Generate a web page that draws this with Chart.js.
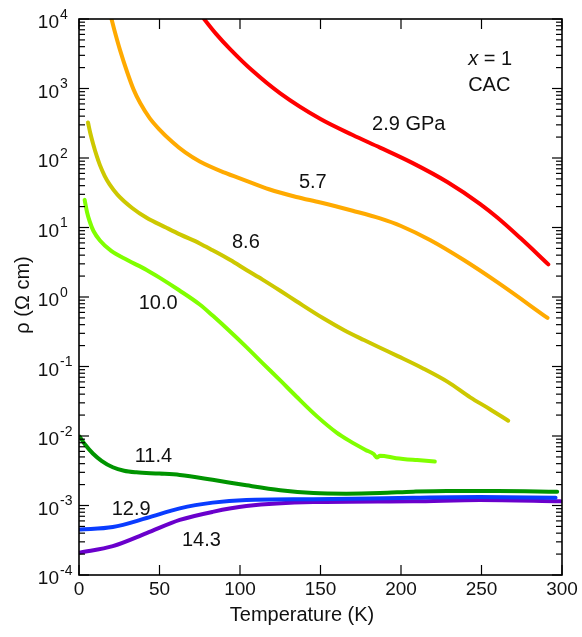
<!DOCTYPE html>
<html>
<head>
<meta charset="utf-8">
<script src="https://cdn.jsdelivr.net/npm/chart.js@4.4.0/dist/chart.umd.min.js"></script>
<style>
  body { margin: 0; background: #fff; }
  canvas { display: block; }
</style>
</head>
<body>
<canvas id="rhoChart" width="582" height="637"></canvas>
<script>
// temperature (K) / resistivity (ohm cm), one pair of arrays per pressure
const t29 = [77.7, 85, 93.7, 108, 125, 150, 170, 187, 207, 229, 249, 260, 274, 291.5];
const rho29 = [1.0e4, 6170, 3720, 1780, 850, 363, 214, 141, 85, 44.7, 21.9, 13.8, 7.1, 2.95];

const t57 = [20.2, 22, 25.4, 30, 34, 38, 44, 50, 58, 66, 75, 90, 104, 118, 135, 150, 170, 187, 200, 218, 239, 260, 291];
const rho57 = [1.0e4, 6900, 3630, 1700, 955, 617, 372, 257, 170, 120, 89, 62, 47, 35.5, 27.5, 22.9, 17.4, 13.5, 10.5, 6.6, 3.4, 1.62, 0.50];

const t86 = [5.6, 7, 8.7, 11, 13, 16, 19, 24, 33, 42, 54, 63, 75, 83, 94, 104, 114, 125, 135, 152, 165, 177, 187, 198, 214, 229, 243, 255, 266.6];
const rho86 = [324, 229, 162, 107, 79, 55, 41.7, 29.5, 19.1, 13.8, 10, 7.9, 5.9, 4.7, 3.4, 2.45, 1.78, 1.23, 0.87, 0.49, 0.33, 0.24, 0.186, 0.141, 0.093, 0.060, 0.036, 0.0245, 0.0166];

const t100 = [3.5, 5, 6.6, 9, 13, 20, 30, 42, 50, 62, 75, 83, 94, 104, 114, 125, 135, 148, 160, 168, 178, 183, 185, 187, 197, 210, 221];
const rho100 = [25, 16.6, 12.3, 8.9, 6.5, 4.6, 3.4, 2.45, 1.9, 1.26, 0.78, 0.54, 0.316, 0.19, 0.112, 0.063, 0.037, 0.019, 0.0112, 0.0085, 0.0063, 0.0055, 0.0049, 0.0052, 0.0048, 0.0045, 0.0043];

const t114 = [0.4, 4, 8.6, 14, 21, 28, 35.6, 50, 62.6, 83, 104, 125, 145.6, 166, 187, 207.5, 228.5, 260, 297];
const rho114 = [0.0098, 0.0074, 0.0056, 0.0044, 0.00355, 0.00316, 0.0030, 0.00288, 0.00275, 0.00234, 0.00195, 0.00166, 0.00151, 0.00148, 0.00151, 0.00158, 0.00162, 0.00162, 0.00158];

const t129 = [0.4, 21, 42, 62.6, 83, 104, 145.6, 207.5, 249, 296];
const rho129 = [4.5e-4, 4.9e-4, 6.6e-4, 9.1e-4, 1.10e-3, 1.20e-3, 1.23e-3, 1.29e-3, 1.32e-3, 1.29e-3];

const t143 = [0.4, 21, 42, 62.6, 83, 104, 145.6, 207.5, 249, 299];
const rho143 = [2.1e-4, 2.6e-4, 4.0e-4, 6.2e-4, 8.1e-4, 9.8e-4, 1.12e-3, 1.15e-3, 1.20e-3, 1.15e-3];

const xTicks = [0, 50, 100, 150, 200, 250, 300];
const yExponents = [-4, -3, -2, -1, 0, 1, 2, 3, 4];

// curve labels, placed in data coordinates (T, rho)
const curveLabels = [
  { text: "2.9 GPa", t: 182, rho: 300 },
  { text: "5.7", t: 136.6, rho: 45 },
  { text: "8.6", t: 95, rho: 6.0 },
  { text: "10.0", t: 37.1, rho: 0.82 },
  { text: "11.4", t: 34.6, rho: 0.0051 },
  { text: "12.9", t: 20.3, rho: 8.9e-4 },
  { text: "14.3", t: 63.9, rho: 3.1e-4 },
];

const FONT = '"Liberation Sans", Arial, sans-serif';

function toPoints(ts, rs) {
  return ts.map((t, i) => ({ x: t, y: rs[i] }));
}

function series(ts, rs, color) {
  return {
    data: toPoints(ts, rs),
    borderColor: color,
    borderWidth: 4,
    borderCapStyle: "round",
    pointRadius: 0,
    fill: false,
    cubicInterpolationMode: "monotone",
  };
}

const axesPlugin = {
  id: "axesPlugin",
  afterDraw(chart) {
    const ctx = chart.ctx;
    const xs = chart.scales.x;
    const ys = chart.scales.y;
    const a = chart.chartArea;

    function seg(x1, y1, x2, y2) {
      ctx.beginPath();
      ctx.moveTo(x1, y1);
      ctx.lineTo(x2, y2);
      ctx.stroke();
    }

    ctx.save();
    ctx.strokeStyle = "#000";
    ctx.lineWidth = 1.2;

    // x ticks, inward on bottom and top
    xTicks.forEach((v) => {
      const px = xs.getPixelForValue(v);
      seg(px, a.bottom, px, a.bottom - 10);
      seg(px, a.top, px, a.top + 10);
    });

    // y ticks (decades + minor), inward on left and right
    yExponents.forEach((e) => {
      for (let m = 1; m <= 9; m++) {
        const v = m * Math.pow(10, e);
        if (v > 1e4 * 1.0001) break;
        const py = ys.getPixelForValue(v);
        const len = m === 1 ? 10 : 6;
        seg(a.left, py, a.left + len, py);
        seg(a.right, py, a.right - len, py);
      }
    });

    ctx.lineWidth = 1.6;
    ctx.strokeRect(a.left, a.top, a.right - a.left, a.bottom - a.top);

    ctx.fillStyle = "#111";

    // x tick labels
    ctx.font = "19px " + FONT;
    ctx.textAlign = "center";
    ctx.textBaseline = "middle";
    xTicks.forEach((v) => {
      ctx.fillText(String(v), xs.getPixelForValue(v), a.bottom + 15);
    });

    // y tick labels as 10^n
    yExponents.forEach((e) => {
      const py = ys.getPixelForValue(Math.pow(10, e));
      ctx.font = "19px " + FONT;
      ctx.textAlign = "right";
      ctx.textBaseline = "middle";
      ctx.fillText("10", a.left - 20, py + 4);
      ctx.font = "14px " + FONT;
      ctx.textAlign = "left";
      ctx.fillText(String(e), a.left - 19, py - 4);
    });

    // axis titles
    ctx.font = "20px " + FONT;
    ctx.textAlign = "center";
    ctx.textBaseline = "middle";
    ctx.fillText("Temperature (K)", 302, a.bottom + 40);
    ctx.save();
    ctx.translate(23, (a.top + a.bottom) / 2 - 2);
    ctx.rotate(-Math.PI / 2);
    ctx.fillText("\u03c1 (\u03a9 cm)", 0, 0);
    ctx.restore();

    // curve labels
    ctx.textAlign = "left";
    curveLabels.forEach((l) => {
      ctx.fillText(l.text, xs.getPixelForValue(l.t), ys.getPixelForValue(l.rho));
    });

    // sample note
    const nx = xs.getPixelForValue(241.7);
    const ny1 = ys.getPixelForValue(2600);
    const ny2 = ys.getPixelForValue(1090);
    ctx.font = "italic 20px " + FONT;
    ctx.fillText("x", nx, ny1);
    const w = ctx.measureText("x").width;
    ctx.font = "20px " + FONT;
    ctx.fillText(" = 1", nx + w, ny1);
    ctx.fillText("CAC", nx, ny2);

    ctx.restore();
  },
};

new Chart(document.getElementById("rhoChart").getContext("2d"), {
  type: "line",
  data: {
    datasets: [
      series(t29, rho29, "#ff0000"),
      series(t57, rho57, "#ffaa00"),
      series(t86, rho86, "#cdc800"),
      series(t100, rho100, "#80ff00"),
      series(t114, rho114, "#009400"),
      series(t129, rho129, "#0a3cff"),
      series(t143, rho143, "#6a00cc"),
    ],
  },
  options: {
    responsive: false,
    animation: false,
    layout: { padding: { left: 79, right: 20, top: 19, bottom: 62 } },
    plugins: { legend: { display: false }, tooltip: { enabled: false } },
    scales: {
      x: { type: "linear", min: 0, max: 300, display: false },
      y: { type: "logarithmic", min: 1e-4, max: 1e4, display: false },
    },
  },
  plugins: [axesPlugin],
});
</script>
</body>
</html>
